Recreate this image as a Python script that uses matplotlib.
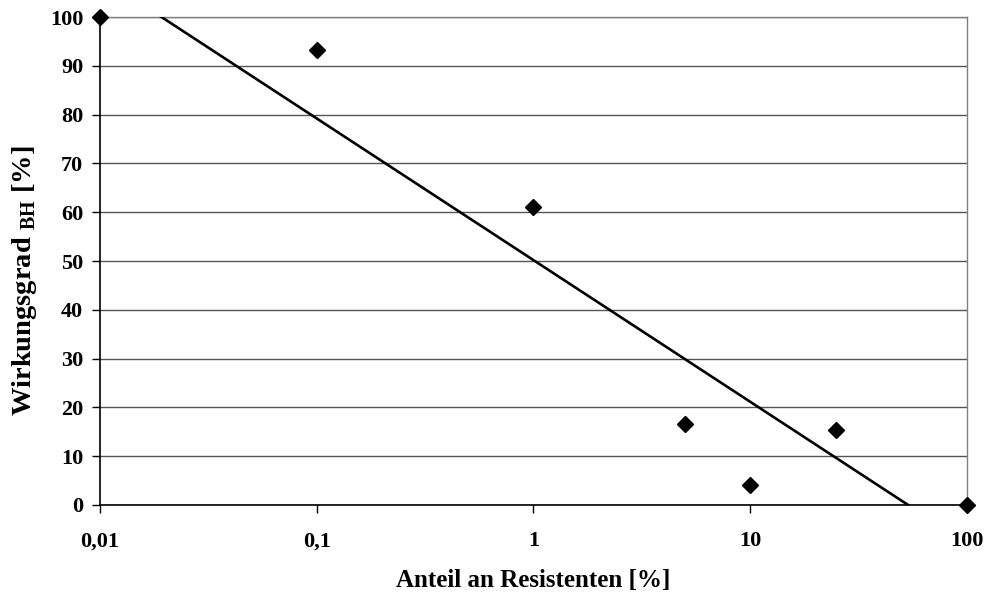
import matplotlib
matplotlib.use("Agg")
import matplotlib.pyplot as plt
import numpy as np

# data
anteil = [0.01, 0.1, 1, 5, 10, 25, 100]
wirkungsgrad = [100, 93.2, 61.1, 16.6, 4.1, 15.4, 0]
x_ticks = [0.01, 0.1, 1, 10, 100]
x_ticklabels = ["0,01", "0,1", "1", "10", "100"]
y_ticks = [0, 10, 20, 30, 40, 50, 60, 70, 80, 90, 100]

plt.rcParams["font.family"] = ["Liberation Serif", "DejaVu Serif"]
plt.rcParams["font.weight"] = "bold"
plt.rcParams["mathtext.fontset"] = "custom"
plt.rcParams["mathtext.rm"] = "Liberation Serif:bold"

fig = plt.figure(figsize=(9.87, 5.93), dpi=100)
ax = fig.add_axes([0.1013, 0.1484, 0.8784, 0.8229])

# logarithmic trend line (least squares on log10 x)
slope, intercept = np.polyfit(np.log10(anteil), wirkungsgrad, 1)
xs = np.logspace(-2, 2, 400)
ax.plot(xs, intercept + slope * np.log10(xs), color="black", lw=1.9, zorder=3)

ax.plot(anteil, wirkungsgrad, linestyle="none", marker="D", ms=8,
        color="black", clip_on=False, zorder=4)

ax.set_xscale("log")
ax.set_xlim(0.01, 100)
ax.set_ylim(0, 100)
ax.set_xticks(x_ticks)
ax.set_xticklabels(x_ticklabels)
ax.xaxis.set_minor_locator(matplotlib.ticker.NullLocator())
ax.set_yticks(y_ticks)

ax.yaxis.grid(True, color="#555555", lw=1)
ax.set_axisbelow(True)

for side in ["left", "bottom"]:
    ax.spines[side].set_color("black")
    ax.spines[side].set_linewidth(1.2)
for side in ["top", "right"]:
    ax.spines[side].set_color("#808080")
    ax.spines[side].set_linewidth(1)

ax.tick_params(axis="both", direction="out", length=6, width=1, labelsize=16, pad=6)
ax.tick_params(axis="x", pad=13)
for lab in ax.get_xticklabels() + ax.get_yticklabels():
    lab.set_fontweight("bold")

ax.set_xlabel("Anteil an Resistenten [%]", fontsize=18, fontweight="bold", labelpad=13)
ax.set_ylabel(r"Wirkungsgrad $_{\mathregular{BH}}$ [%]", fontsize=20.5,
              fontweight="bold")
ax.yaxis.set_label_coords(-0.07, 0.459)

fig.savefig("out.png", dpi=100)
